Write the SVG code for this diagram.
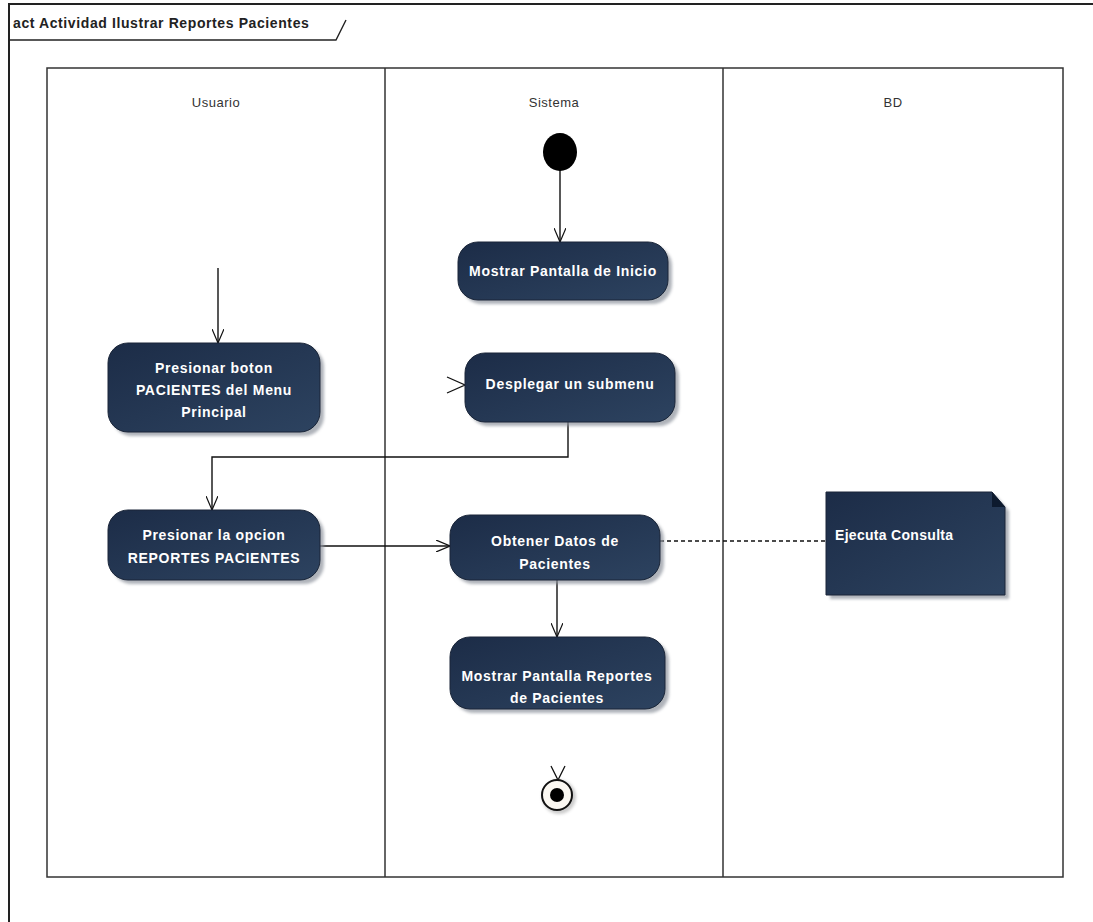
<svg xmlns="http://www.w3.org/2000/svg" width="1093" height="922" viewBox="0 0 1093 922">
  <defs>
    <linearGradient id="actFill" x1="0" y1="0" x2="1" y2="1">
      <stop offset="0" stop-color="#1c2c47"/>
      <stop offset="1" stop-color="#2d4360"/>
    </linearGradient>
    <filter id="soft" x="-10%" y="-10%" width="130%" height="140%">
      <feGaussianBlur stdDeviation="1.5"/>
    </filter>
    <marker id="open" viewBox="0 0 14 12" refX="14" refY="6" markerWidth="14" markerHeight="12" markerUnits="userSpaceOnUse" orient="auto">
      <path d="M0,0 L14,6 L0,12" fill="none" stroke="#111" stroke-width="1.2"/>
    </marker>
  </defs>
  <style>
    .frame { fill: none; stroke: #222; stroke-width: 2; }
    .lane { fill: none; stroke: #333; stroke-width: 1.5; }
    .hdr { font-family: "Liberation Sans", Arial, sans-serif; font-size: 13px; fill: #333; text-anchor: middle; letter-spacing: 0.5px; }
    .title { font-family: "Liberation Sans", Arial, sans-serif; font-size: 14px; font-weight: bold; fill: #222; letter-spacing: 0.6px; }
    .act { fill: url(#actFill); stroke: #1a2538; stroke-width: 1; }
    .shadow { fill: #8d939c; opacity: 0.7; filter: url(#soft); }
    .lbl { font-family: "Liberation Sans", Arial, sans-serif; font-size: 14px; font-weight: bold; fill: #fff; text-anchor: middle; letter-spacing: 0.7px; }
    .note { font-family: "Liberation Sans", Arial, sans-serif; font-size: 14px; font-weight: bold; fill: #fff; letter-spacing: 0.3px; }
    .flow { fill: none; stroke: #111; stroke-width: 1.4; }
    .dash { fill: none; stroke: #111; stroke-width: 1.3; stroke-dasharray: 4 3; }
  </style>

  <rect width="1093" height="922" fill="#fff"/>

  <!-- diagram frame and name tab -->
  <g id="frame">
    <path class="frame" d="M9,922 L9,4 L1093,4"/>
    <path d="M9,40 L336,40 L346,20" fill="none" stroke="#222" stroke-width="1.4"/>
    <text class="title" x="13" y="28">act Actividad Ilustrar Reportes Pacientes</text>
  </g>

  <!-- swimlanes -->
  <g id="lanes">
    <rect class="lane" x="47" y="68" width="1016" height="809"/>
    <line class="lane" x1="385" y1="68" x2="385" y2="877"/>
    <line class="lane" x1="723" y1="68" x2="723" y2="877"/>
    <text class="hdr" x="216" y="107">Usuario</text>
    <text class="hdr" x="554" y="107">Sistema</text>
    <text class="hdr" x="893" y="107">BD</text>
  </g>

  <!-- connectors -->
  <g id="connectors">
    <line class="flow" x1="560" y1="170" x2="560" y2="242" marker-end="url(#open)"/>
    <line class="flow" x1="218" y1="268" x2="218" y2="343" marker-end="url(#open)"/>
    <path d="M447,377 L465,385 L447,393" fill="none" stroke="#111" stroke-width="1.3"/>
    <path class="flow" d="M568,422 L568,457 L212,457 L212,510" marker-end="url(#open)"/>
    <line class="flow" x1="320" y1="546" x2="450" y2="546" marker-end="url(#open)"/>
    <line class="dash" x1="660" y1="541" x2="826" y2="541"/>
    <line class="flow" x1="557" y1="580" x2="557" y2="637" marker-end="url(#open)"/>
    <path d="M551,766 L558,780 L565,766" fill="none" stroke="#111" stroke-width="1.3"/>
  </g>

  <!-- initial node -->
  <g id="start">
    <ellipse cx="560" cy="152" rx="17" ry="19" fill="#000"/>
  </g>

  <g id="mostrarInicio">
    <rect class="shadow" x="462" y="246" width="210" height="58" rx="20"/>
    <rect class="act" x="458" y="242" width="210" height="58" rx="20"/>
    <text class="lbl" x="563" y="276">Mostrar Pantalla de Inicio</text>
  </g>

  <g id="presionarBoton">
    <rect class="shadow" x="112" y="347" width="212" height="89" rx="20"/>
    <rect class="act" x="108" y="343" width="212" height="89" rx="20"/>
    <text class="lbl" x="214" y="373">Presionar boton</text>
    <text class="lbl" x="214" y="395">PACIENTES del Menu</text>
    <text class="lbl" x="214" y="417">Principal</text>
  </g>

  <g id="desplegar">
    <rect class="shadow" x="469" y="357" width="210" height="69" rx="20"/>
    <rect class="act" x="465" y="353" width="210" height="69" rx="20"/>
    <text class="lbl" x="570" y="389">Desplegar un submenu</text>
  </g>

  <g id="presionarOpcion">
    <rect class="shadow" x="112" y="514" width="212" height="70" rx="20"/>
    <rect class="act" x="108" y="510" width="212" height="70" rx="20"/>
    <text class="lbl" x="214" y="540">Presionar la opcion</text>
    <text class="lbl" x="214" y="563">REPORTES PACIENTES</text>
  </g>

  <g id="obtenerDatos">
    <rect class="shadow" x="454" y="519" width="210" height="65" rx="20"/>
    <rect class="act" x="450" y="515" width="210" height="65" rx="20"/>
    <text class="lbl" x="555" y="546">Obtener Datos de</text>
    <text class="lbl" x="555" y="569">Pacientes</text>
  </g>

  <g id="nota">
    <path class="shadow" d="M830,496 L996,496 L1009,511 L1009,599 L830,599 Z"/>
    <path d="M826,492 L992,492 L1005,507 L1005,595 L826,595 Z" fill="url(#actFill)" stroke="#1a2538" stroke-width="1"/>
    <path d="M992,492 L992,507 L1005,507 Z" fill="#0d1a2e"/>
    <text class="note" x="835" y="540">Ejecuta Consulta</text>
  </g>

  <g id="mostrarReportes">
    <rect class="shadow" x="454" y="641" width="215" height="72" rx="20"/>
    <rect class="act" x="450" y="637" width="215" height="72" rx="20"/>
    <text class="lbl" x="557" y="681">Mostrar Pantalla Reportes</text>
    <text class="lbl" x="557" y="703">de Pacientes</text>
  </g>

  <!-- final node -->
  <g id="fin">
    <circle cx="559" cy="797" r="17" fill="#9a9a9a" opacity="0.5" filter="url(#soft)"/>
    <circle cx="557" cy="795" r="15" fill="#fbf8f2" stroke="#111" stroke-width="2"/>
    <circle cx="557" cy="795" r="7" fill="#000"/>
  </g>
</svg>
